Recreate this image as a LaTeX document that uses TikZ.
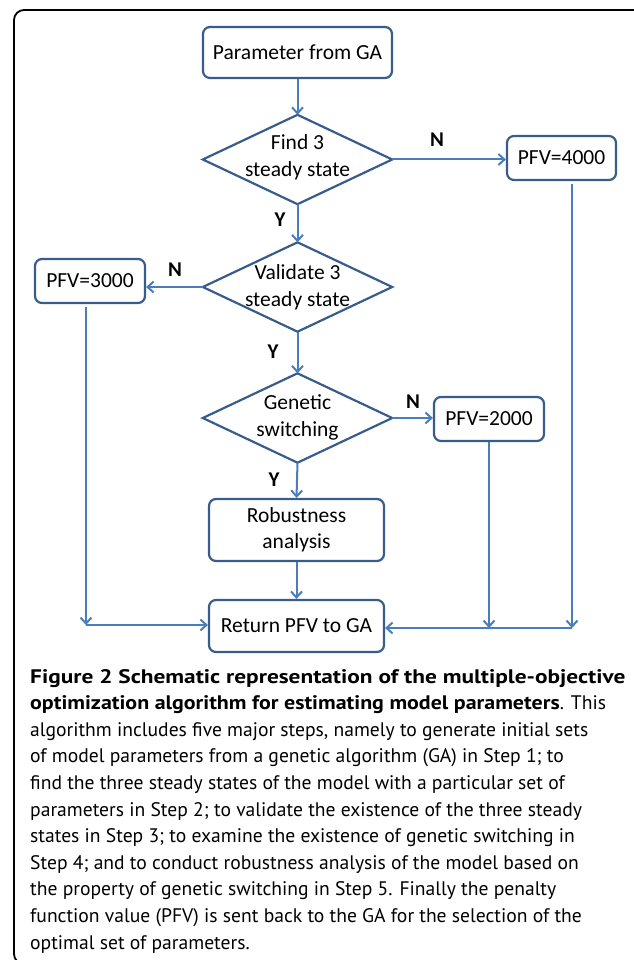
\documentclass[tikz,border=0pt]{standalone}
\usepackage{fontspec}
\setmainfont{PT Sans}
\newfontfamily\capbA{PT Sans}[FakeStretch=1.19]
\newfontfamily\capbB{PT Sans}[FakeStretch=1.12]
\newfontfamily\calfont{Carlito}
\usetikzlibrary{arrows.meta}
\definecolor{boxblue}{HTML}{385D8A}
\definecolor{arrblue}{HTML}{4A7EBB}
\begin{document}
\begin{tikzpicture}[x=1pt,y=-1pt,
  box/.style={draw=boxblue, line width=2.2pt, rounded corners=7pt, fill=white, inner sep=0pt, align=center, font=\calfont\fontsize{21.5}{26}\selectfont},
  diabox/.style={inner sep=0pt, minimum width=189pt, minimum height=89pt},
  diaedge/.style={draw=boxblue, line width=2.2pt, line join=miter},
  dtext/.style={inner sep=0pt, align=center, font=\calfont\fontsize{21.5}{27}\selectfont},
  conn/.style={draw=arrblue, line width=2pt, -{Straight Barb[length=6pt,width=11pt,line width=2pt]}},
  lbl/.style={inner sep=0pt, font=\calfont\bfseries\fontsize{21}{24}\selectfont},
  captxt/.style={anchor=base west, inner sep=0pt, font=\fontsize{19.6}{26.6}\selectfont}]
\useasboundingbox (0,0) rectangle (633,960);
\draw[line width=1.8pt, rounded corners=10pt] (14,10) rectangle (645,964);

% flowchart nodes
\node[box, minimum width=189pt, minimum height=51pt] (start) at (297.5,52.5) {Parameter from GA};

\node[diabox] (d1) at (297.5,159.5) {};
\draw[diaedge] (d1.north) -- (d1.east) -- (d1.south) -- (d1.west) -- cycle;
\node[dtext] (d1t) at (297.5,157) {Find 3\\steady state};

\node[box, minimum width=109pt, minimum height=44pt] (p4000) at (561.5,158) {PFV=4000};

\node[diabox] (d2) at (297.5,287) {};
\draw[diaedge] (d2.north) -- (d2.east) -- (d2.south) -- (d2.west) -- cycle;
\node[dtext] (d2t) at (297.5,287) {Validate 3\\steady state};

\node[box, minimum width=110pt, minimum height=44pt] (p3000) at (90,281) {PFV=3000};

\node[diabox] (d3) at (297.5,418) {};
\draw[diaedge] (d3.north) -- (d3.east) -- (d3.south) -- (d3.west) -- cycle;
\node[dtext] (d3t) at (297.5,417) {Genetic\\switching};

\node[box, minimum width=110pt, minimum height=44pt] (p2000) at (489,419) {PFV=2000};

\node[box, minimum width=175pt, minimum height=62pt] (rob) at (296.5,530) {Robustness\\analysis\vphantom{/}};
\node[box, minimum width=175pt, minimum height=52pt] (ret) at (296.5,626) {Return PFV to GA};

% labels
\node[lbl] (n1) at (437,140) {N};
\node[lbl] (y1) at (280,220) {Y};
\node[lbl] (n2) at (175,270) {N};
\node[lbl] (y2) at (273,352) {Y};
\node[lbl] (n3) at (413,402) {N};
\node[lbl] (y3) at (274,480) {Y};

% corners
\coordinate (cL) at (86,625);
\coordinate (cM) at (489,628);
\coordinate (cR) at (572,628);

% connectors
\draw[conn] (start.south) -- (d1.north);
\draw[conn] (d1.east) -- (d1.east -| p4000.west);
\draw[conn] (d1.south) -- (d2.north);
\draw[conn] (d2.west) -- (d2.west -| p3000.east);
\draw[conn] (d2.south) -- (d3.north);
\draw[conn] (d3.east) -- (d3.east -| p2000.west);
\draw[conn] (d3.south) -- (rob.north);
\draw[conn] (rob.south) -- (ret.north);
\draw[conn] ([yshift=-3pt]p3000.south -| cL) -- (cL);
\draw[conn] (cL) -- (cL -| ret.west);
\draw[conn] ([yshift=-3pt]p4000.south -| cR) -- (cR);
\draw[conn] (p2000.south -| cM) -- (cM);
\draw[conn] (cR) -- (cR -| ret.east);

% caption
\node[captxt] (cap1) at (30,683) {{\capbA\bfseries Figure 2 Schematic representation of the multiple-objective}};
\node[captxt] (cap2) at (30,709.6) {{\capbB\bfseries optimization algorithm for estimating model parameters}. This};
\node[captxt] (cap3) at (30,736.2) {algorithm includes five major steps, namely to generate initial sets};
\node[captxt] (cap4) at (30,762.8) {of model parameters from a genetic algorithm (GA) in Step 1; to};
\node[captxt] (cap5) at (30,789.4) {find the three steady states of the model with a particular set of};
\node[captxt] (cap6) at (30,816) {parameters in Step 2; to validate the existence of the three steady};
\node[captxt] (cap7) at (30,842.6) {states in Step 3; to examine the existence of genetic switching in};
\node[captxt] (cap8) at (30,869.2) {Step 4; and to conduct robustness analysis of the model based on};
\node[captxt] (cap9) at (30,895.8) {the property of genetic switching in Step 5. Finally the penalty};
\node[captxt] (cap10) at (30,922.4) {function value (PFV) is sent back to the GA for the selection of the};
\node[captxt] (cap11) at (30,949) {optimal set of parameters.};
\end{tikzpicture}
\end{document}
